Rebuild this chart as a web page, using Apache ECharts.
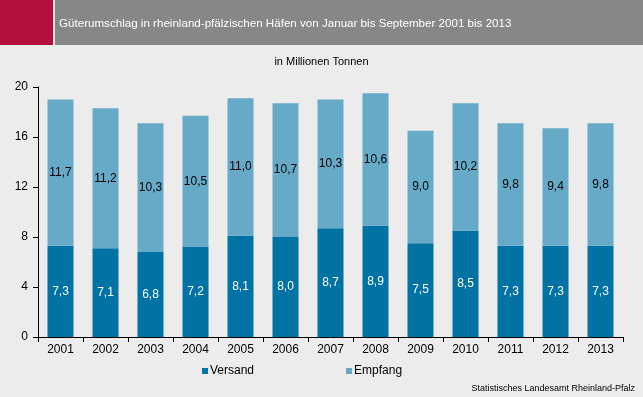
<!DOCTYPE html>
<html>
<head>
<meta charset="utf-8">
<script src="https://cdn.jsdelivr.net/npm/echarts@6/dist/echarts.min.js"></script>
<style>
html, body { margin: 0; padding: 0; background: #ececec; }
#main { width: 643px; height: 397px; }
</style>
</head>
<body>
<div id="main"></div>
<script>
// Jahre
var jahre = ['2001', '2002', '2003', '2004', '2005', '2006', '2007', '2008', '2009', '2010', '2011', '2012', '2013'];
// Mio. Tonnen
var versand = [7.3, 7.1, 6.8, 7.2, 8.1, 8.0, 8.7, 8.9, 7.5, 8.5, 7.3, 7.3, 7.3];
var empfang = [11.7, 11.2, 10.3, 10.5, 11.0, 10.7, 10.3, 10.6, 9.0, 10.2, 9.8, 9.4, 9.8];

var titel = 'Güterumschlag in rheinland-pfälzischen Häfen von Januar bis September 2001 bis 2013';
var einheit = 'in Millionen Tonnen';
var quelle = 'Statistisches Landesamt Rheinland-Pfalz';

var schrift = "'Liberation Sans', Arial, sans-serif";

function komma(p) {
    return p.value.toFixed(1).replace('.', ',');
}

var chart = echarts.init(document.getElementById('main'));

var option = {
    backgroundColor: '#ececec',
    textStyle: { fontFamily: schrift },
    graphic: [
        { type: 'rect', shape: { x: 0, y: 0, width: 53, height: 45 }, style: { fill: '#b5103c' } },
        { type: 'rect', shape: { x: 55, y: 0, width: 588, height: 45 }, style: { fill: '#878787' } },
        { type: 'text', left: 59, top: 18, style: { text: titel, fill: '#ffffff', font: '11.6px ' + schrift } },
        { type: 'text', left: 'center', top: 56, style: { text: einheit, fill: '#000000', font: '11px ' + schrift } },
        { type: 'text', right: 8, top: 384, style: { text: quelle, fill: '#000000', font: '9px ' + schrift } }
    ],
    legend: {
        bottom: 15,
        left: 197,
        itemWidth: 6,
        itemHeight: 6,
        itemGap: 92,
        icon: 'rect',
        textStyle: { fontSize: 12, color: '#000', padding: [0, 0, 0, -3] },
        data: ['Versand', 'Empfang']
    },
    grid: { left: 38, right: 20, top: 87, bottom: 60 },
    xAxis: {
        type: 'category',
        data: jahre,
        axisLine: { lineStyle: { color: '#000', width: 1 } },
        axisTick: { show: true, length: 5, lineStyle: { color: '#000' } },
        axisLabel: { color: '#000', fontSize: 12, margin: 7 }
    },
    yAxis: {
        type: 'value',
        min: 0,
        max: 20,
        interval: 4,
        axisLine: { show: true, lineStyle: { color: '#000', width: 1 } },
        axisTick: { show: true, length: 5, lineStyle: { color: '#000' } },
        axisLabel: { color: '#000', fontSize: 12, margin: 10 },
        splitLine: { show: false }
    },
    series: [
        {
            name: 'Versand',
            type: 'bar',
            stack: 'g',
            barWidth: 26,
            data: versand,
            itemStyle: { color: '#0072a3' },
            label: { show: true, position: 'inside', color: '#fff', fontSize: 12, formatter: komma }
        },
        {
            name: 'Empfang',
            type: 'bar',
            stack: 'g',
            barWidth: 26,
            data: empfang,
            itemStyle: { color: '#66aac8' },
            label: { show: true, position: 'inside', color: '#000', fontSize: 12, formatter: komma }
        }
    ]
};

chart.setOption(option);
</script>
</body>
</html>
